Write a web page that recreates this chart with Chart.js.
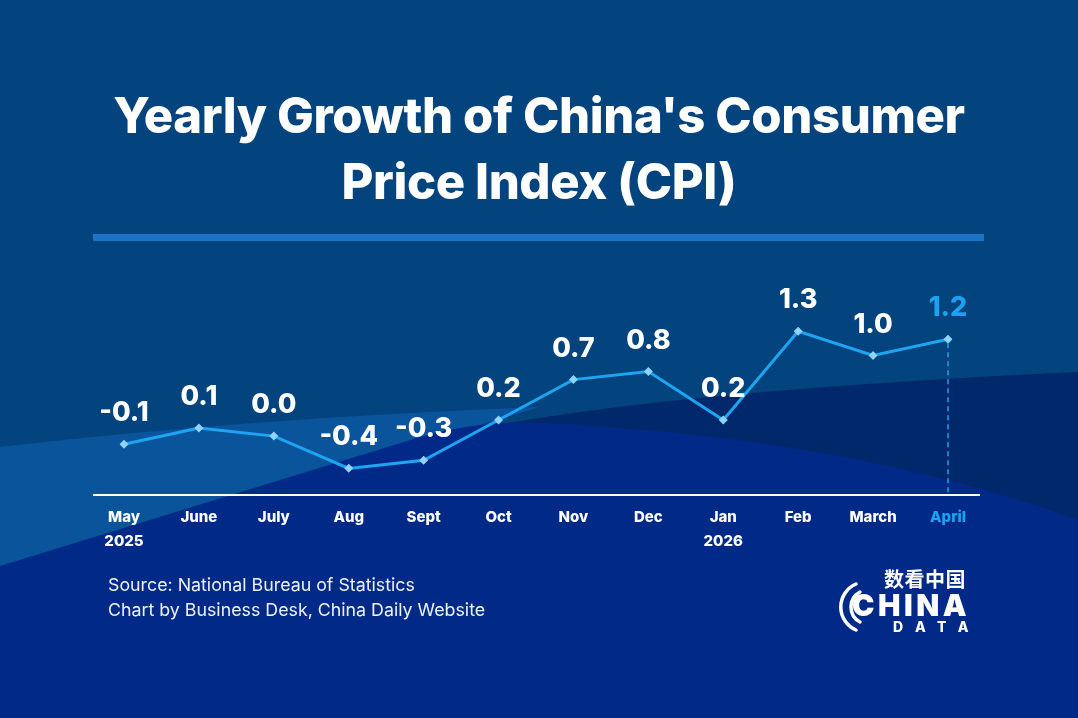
<!DOCTYPE html>
<html><head><meta charset="utf-8">
<script src="https://cdn.jsdelivr.net/npm/chart.js@4.4.1/dist/chart.umd.min.js"></script>
<style>
html,body{margin:0;padding:0;width:1078px;height:718px;overflow:hidden;background:#002a88;}
#wrap{position:relative;width:1078px;height:718px;}
svg.bg{position:absolute;left:0;top:0}
#title{position:absolute;left:0;top:83px;width:1078px;text-align:center;color:#fff;font-family:Inter,sans-serif;font-weight:800;font-size:49px;line-height:66px;letter-spacing:-0.4px}
#rule{position:absolute;left:93px;top:234px;width:891px;height:7px;background:#1c72c6}
#c{position:absolute;left:0;top:0}
#foot{position:absolute;left:108px;top:572px;color:#eef2fb;font-family:Inter,sans-serif;font-size:17.8px;line-height:25px}
#logo-cn{position:absolute;left:884px;top:568px;color:#fff;font-family:"Noto Sans CJK SC";font-weight:700;font-size:20px;line-height:22px;letter-spacing:0.5px}
#logo-china{position:absolute;left:852px;top:590px;color:#fff;font-family:Inter,sans-serif;font-weight:900;font-size:30px;line-height:30px;letter-spacing:3.5px}
#logo-data{position:absolute;left:893px;top:620px;color:#fff;font-family:Inter,sans-serif;font-weight:800;font-size:14px;line-height:14px;letter-spacing:12.5px}
</style></head>
<body><div id="wrap">
<svg class="bg" width="1078" height="718" viewBox="0 0 1078 718">
  <rect x="0" y="0" width="1078" height="718" fill="#03437e"/>
  <path d="M420,442 Q600,394 1078,372 L1078,718 L420,718 Z" fill="#02286c"/>
  <path d="M0,447 Q250,418 540,407 L0,566 Z" fill="#0a549c"/>
  <path d="M0,566 L420,437 Q480,420 540,423 C700,430 900,455 1078,520 L1078,718 L0,718 Z" fill="#012a88"/>
  <path d="M856,584 A25,25 0 0 0 856,630" fill="none" stroke="#fff" stroke-width="3.5" stroke-linecap="round"/>
  <path d="M860,592 A17,17 0 0 0 860,622" fill="none" stroke="#fff" stroke-width="3.5" stroke-linecap="round"/>
</svg>
<div id="title">Yearly Growth of China's Consumer<br>Price Index (CPI)</div>
<div id="rule"></div>
<canvas id="c" width="1078" height="718"></canvas>
<div id="foot">Source: National Bureau of Statistics<br>Chart by Business Desk, China Daily Website</div>
<div id="logo-cn">数看中国</div>
<div id="logo-china">CHINA</div>
<div id="logo-data">DATA</div>
</div>
<script>
const categories = [['May','2025'],'June','July','Aug','Sept','Oct','Nov','Dec',['Jan','2026'],'Feb','March','April'];
const cpiValues = [-0.1, 0.1, 0.0, -0.4, -0.3, 0.2, 0.7, 0.8, 0.2, 1.3, 1.0, 1.2];
const highlightIndex = 11;

const WHITE = '#ffffff';
const SKY = '#1aa3f0';

const extras = {
  id: 'extras',
  afterDatasetsDraw(chart) {
    const ctx = chart.ctx;
    const area = chart.chartArea;
    const meta = chart.getDatasetMeta(0);
    ctx.save();
    const hp = meta.data[highlightIndex];
    ctx.strokeStyle = SKY;
    ctx.lineWidth = 1.5;
    ctx.setLineDash([5, 4]);
    ctx.beginPath();
    ctx.moveTo(hp.x, hp.y + 4);
    ctx.lineTo(hp.x, area.bottom);
    ctx.stroke();
    ctx.setLineDash([]);
    ctx.strokeStyle = WHITE;
    ctx.lineWidth = 2;
    ctx.beginPath();
    ctx.moveTo(area.left - 31, area.bottom);
    ctx.lineTo(area.right + 32, area.bottom);
    ctx.stroke();
    ctx.font = '800 27px Inter, sans-serif';
    ctx.textAlign = 'center';
    ctx.textBaseline = 'middle';
    meta.data.forEach((pt, i) => {
      ctx.fillStyle = i === highlightIndex ? SKY : WHITE;
      ctx.fillText(cpiValues[i].toFixed(1), pt.x, pt.y - 31);
    });
    ctx.restore();
  }
};

new Chart(document.getElementById('c'), {
  type: 'line',
  data: {
    labels: categories,
    datasets: [{
      data: cpiValues,
      borderColor: '#1ea5f2',
      borderWidth: 3,
      tension: 0,
      pointStyle: 'rectRot',
      pointRadius: 4.5,
      pointBackgroundColor: '#8fd3f7',
      pointBorderWidth: 0
    }]
  },
  options: {
    responsive: false,
    animation: false,
    devicePixelRatio: 1,
    layout: { padding: { left: 124, right: 130, top: 307, bottom: 163 } },
    plugins: { legend: { display: false }, tooltip: { enabled: false } },
    scales: {
      x: {
        offset: false,
        grid: { display: false, drawTicks: false },
        border: { display: false },
        afterFit(scale) { scale.height = 60; },
        ticks: {
          autoSkip: false,
          maxRotation: 0,
          minRotation: 0,
          padding: 10,
          font: { family: 'Inter, sans-serif', weight: '800', size: 15, lineHeight: 1.6 },
          color: (c) => c.index === highlightIndex ? SKY : WHITE
        }
      },
      y: { display: false, min: -0.73, max: 1.6 }
    }
  },
  plugins: [extras]
});
</script>
</body></html>
